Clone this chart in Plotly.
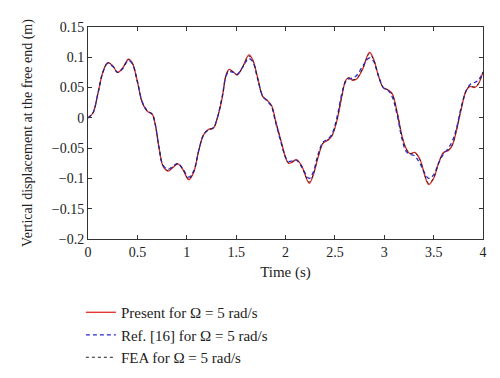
import plotly.graph_objects as go

t_present = [0.00,0.05,0.10,0.15,0.20,0.25,0.30,0.35,0.41,0.45,0.50,0.55,0.60,0.65,0.68,0.72,0.76,0.81,0.86,0.91,0.96,1.02,1.07,1.12,1.17,1.22,1.27,1.31,1.36,1.40,1.43,1.47,1.51,1.56,1.63,1.67,1.72,1.77,1.82,1.86,1.90,1.95,2.00,2.03,2.07,2.11,2.16,2.24,2.28,2.33,2.38,2.43,2.47,2.52,2.57,2.61,2.64,2.68,2.72,2.78,2.85,2.89,2.94,2.99,3.04,3.08,3.13,3.18,3.22,3.26,3.31,3.36,3.45,3.50,3.55,3.60,3.65,3.69,3.73,3.78,3.83,3.87,3.91,3.95,4.00]
y_present = [0.000,0.008,0.040,0.075,0.091,0.086,0.075,0.082,0.097,0.090,0.060,0.025,0.011,0.006,-0.010,-0.050,-0.080,-0.088,-0.082,-0.076,-0.085,-0.102,-0.090,-0.055,-0.028,-0.019,-0.017,0.000,0.034,0.072,0.080,0.076,0.071,0.082,0.104,0.095,0.065,0.035,0.028,0.020,-0.005,-0.035,-0.065,-0.075,-0.073,-0.069,-0.078,-0.108,-0.095,-0.065,-0.042,-0.037,-0.030,-0.005,0.035,0.062,0.066,0.062,0.064,0.080,0.108,0.098,0.070,0.050,0.046,0.040,0.010,-0.030,-0.050,-0.059,-0.057,-0.068,-0.110,-0.100,-0.075,-0.057,-0.054,-0.045,-0.022,0.015,0.045,0.052,0.050,0.055,0.076]

t_ref = t_present
y_ref = [0.000,0.008,0.040,0.075,0.090,0.085,0.075,0.081,0.095,0.089,0.060,0.026,0.012,0.006,-0.010,-0.050,-0.078,-0.085,-0.080,-0.075,-0.084,-0.098,-0.088,-0.055,-0.028,-0.020,-0.016,0.000,0.036,0.070,0.076,0.075,0.072,0.082,0.098,0.092,0.063,0.036,0.027,0.018,-0.008,-0.038,-0.065,-0.072,-0.071,-0.070,-0.080,-0.100,-0.090,-0.060,-0.040,-0.035,-0.027,0.000,0.040,0.060,0.064,0.066,0.070,0.085,0.099,0.094,0.070,0.050,0.045,0.035,0.005,-0.035,-0.055,-0.060,-0.063,-0.075,-0.100,-0.094,-0.075,-0.060,-0.050,-0.038,-0.018,0.018,0.045,0.055,0.058,0.062,0.075]

t_fea = t_present
y_fea = [0.000,0.008,0.040,0.075,0.091,0.086,0.075,0.082,0.096,0.090,0.060,0.025,0.011,0.006,-0.010,-0.050,-0.079,-0.087,-0.081,-0.076,-0.085,-0.101,-0.089,-0.055,-0.028,-0.019,-0.017,0.000,0.035,0.071,0.079,0.076,0.071,0.082,0.102,0.094,0.064,0.035,0.028,0.019,-0.006,-0.036,-0.065,-0.074,-0.072,-0.069,-0.079,-0.106,-0.094,-0.064,-0.041,-0.036,-0.029,-0.004,0.036,0.062,0.066,0.063,0.065,0.081,0.106,0.097,0.070,0.050,0.046,0.039,0.009,-0.031,-0.051,-0.059,-0.058,-0.069,-0.108,-0.099,-0.075,-0.058,-0.053,-0.044,-0.021,0.016,0.045,0.053,0.051,0.056,0.076]

x_ticks = [0, 0.5, 1, 1.5, 2, 2.5, 3, 3.5, 4]
x_tick_labels = ["0", "0.5", "1", "1.5", "2", "2.5", "3", "3.5", "4"]
y_ticks = [-0.2, -0.15, -0.1, -0.05, 0, 0.05, 0.1, 0.15]
y_tick_labels = ["\u22120.2", "\u22120.15", "\u22120.1", "\u22120.05", "0", "0.05", "0.1", "0.15"]

font_family = "Liberation Serif, Times New Roman, serif"

fig = go.Figure()
fig.add_trace(go.Scatter(x=t_present, y=y_present, mode="lines", line=dict(color="#e02828", width=1.3, shape="spline"),
                         name="Present for \u03a9 = 5 rad/s"))
fig.add_trace(go.Scatter(x=t_ref, y=y_ref, mode="lines", line=dict(color="#2a2ad0", width=1.3, dash="4px,3px", shape="spline"),
                         name="Ref. [16] for \u03a9 = 5 rad/s"))
fig.add_trace(go.Scatter(x=t_fea, y=y_fea, mode="lines", line=dict(color="#222222", width=1, dash="dot", shape="spline"),
                         name="FEA for \u03a9 = 5 rad/s"))

axis_common = dict(showline=True, linecolor="#333333", linewidth=1, mirror="ticks", ticks="inside",
                   ticklen=4, tickcolor="#333333", showgrid=False, zeroline=False, automargin=False,
                   tickfont=dict(family=font_family, size=14, color="#222222"))

# The page body has an 8px default margin, so margins are offset accordingly
fig.update_layout(
    width=500, height=378,
    margin=dict(l=80, r=25, t=19, b=147, autoexpand=False),
    paper_bgcolor="white", plot_bgcolor="white",
    font=dict(family=font_family, size=14, color="#222222"),
    xaxis=dict(range=[0, 4], tickvals=x_ticks, ticktext=x_tick_labels,
               title=dict(text="Time (s)", font=dict(family=font_family, size=15), standoff=7),
               **axis_common),
    yaxis=dict(range=[-0.2, 0.15], tickvals=y_ticks, ticktext=y_tick_labels,
               title=dict(text="Vertical displacement at the free end (m)", font=dict(family=font_family, size=14), standoff=15),
               **axis_common),
    legend=dict(x=-0.018, y=-0.269, xanchor="left", yanchor="top", bgcolor="rgba(0,0,0,0)",
                font=dict(family=font_family, size=15), tracegroupgap=0, itemwidth=30),
    showlegend=True,
)

fig.write_html("out.html")
